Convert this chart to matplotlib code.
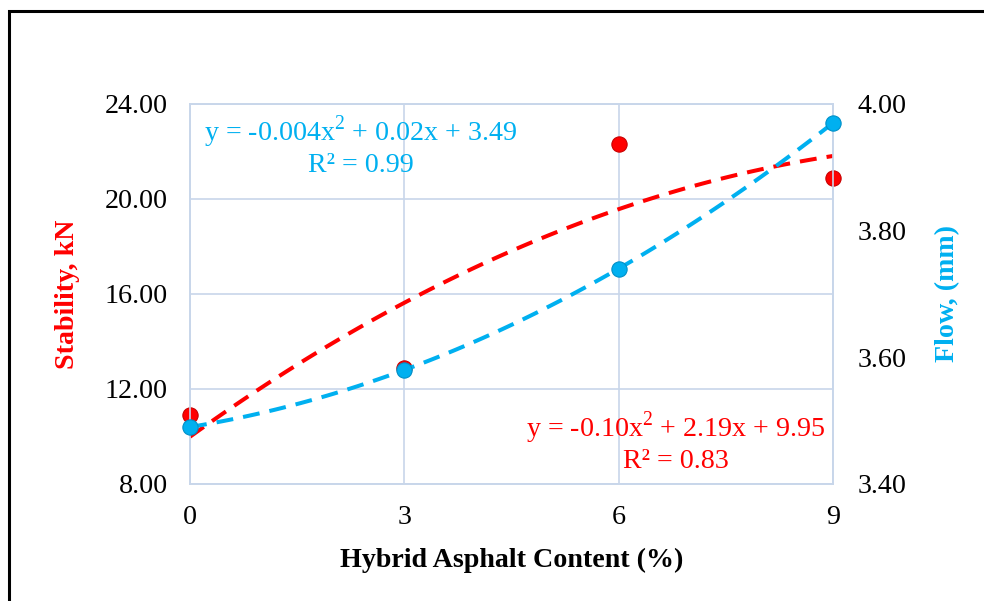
import numpy as np
import matplotlib.pyplot as plt
from matplotlib.patches import Rectangle

plt.rcParams['font.family'] = ['Liberation Serif', 'DejaVu Serif']
plt.rcParams['mathtext.fontset'] = 'custom'
plt.rcParams['mathtext.rm'] = 'Liberation Serif'

content = [0, 3, 6, 9]
stability = [10.9, 12.9, 22.3, 20.9]
flow = [3.49, 3.58, 3.74, 3.97]

red = "#ff0000"
blue = "#00b0f0"
grid_c = "#c8d6ea"
fs = 20.2

fig = plt.figure(figsize=(9.84, 6.01), dpi=100)
ax = fig.add_axes([0.1931, 0.1947, 0.6534, 0.6323])
ax2 = ax.twinx()

# outer chart border (partly cropped like the original)
fig.patches.append(Rectangle((0.0095, -0.2), 1.2, 1.182, transform=fig.transFigure,
                             fill=False, edgecolor="black", linewidth=2.2))

xs = np.linspace(0, 9, 100)
k_s = np.polyfit(content, stability, 2)
k_f = np.polyfit(content, flow, 2)

ax.plot(xs, np.polyval(k_s, xs), color=red, lw=2.9, dashes=(4.2, 2.5), zorder=3)
ax.plot(content, stability, "o", color=red, ms=11, mec="#c80000", mew=0.8, zorder=4, clip_on=False)

ax2.plot(xs, np.polyval(k_f, xs), color=blue, lw=2.9, dashes=(4.2, 2.5), zorder=3)
ax2.plot(content, flow, "o", color=blue, ms=11, mec="#0090c8", mew=0.8, zorder=4, clip_on=False)

ax.set_xlim(0, 9)
ax.set_ylim(8, 24)
ax2.set_ylim(3.4, 4.0)
ax.set_xticks([0, 3, 6, 9])
ax.set_yticks(np.arange(8, 25, 4))
ax2.set_yticks(np.arange(3.4, 4.01, 0.2))
ax.set_yticklabels([f"{v:.2f}" for v in np.arange(8, 25, 4)])
ax2.set_yticklabels([f"{v:.2f}" for v in np.arange(3.4, 4.01, 0.2)])

ax.grid(True, color=grid_c, lw=1.2)
ax.set_axisbelow(True)
for a in (ax, ax2):
    for s in a.spines.values():
        s.set_color(grid_c)
        s.set_linewidth(1.2)
ax.tick_params(axis="both", length=0, labelsize=fs, colors="black")
ax.tick_params(axis="y", pad=16)
ax.tick_params(axis="x", pad=15)
ax2.tick_params(axis="y", length=0, labelsize=fs, pad=18)

ax.set_xlabel("Hybrid Asphalt Content (%)", fontsize=fs, fontweight="bold", labelpad=13)
ax.set_ylabel("Stability, kN", fontsize=fs, fontweight="bold", color=red, labelpad=18)
ax2.set_ylabel("Flow, (mm)", fontsize=fs, fontweight="bold", color=blue, labelpad=20)

ax.text(0.266, 0.975, "y = -0.004x$^{2}$ + 0.02x + 3.49\nR² = 0.99", transform=ax.transAxes,
        color=blue, fontsize=fs, ha="center", va="top", linespacing=1.15, zorder=5)
ax.text(0.755, 0.195, "y = -0.10x$^{2}$ + 2.19x + 9.95\nR² = 0.83", transform=ax.transAxes,
        color=red, fontsize=fs, ha="center", va="top", linespacing=1.15, zorder=5)

fig.savefig("out.png", dpi=100)
